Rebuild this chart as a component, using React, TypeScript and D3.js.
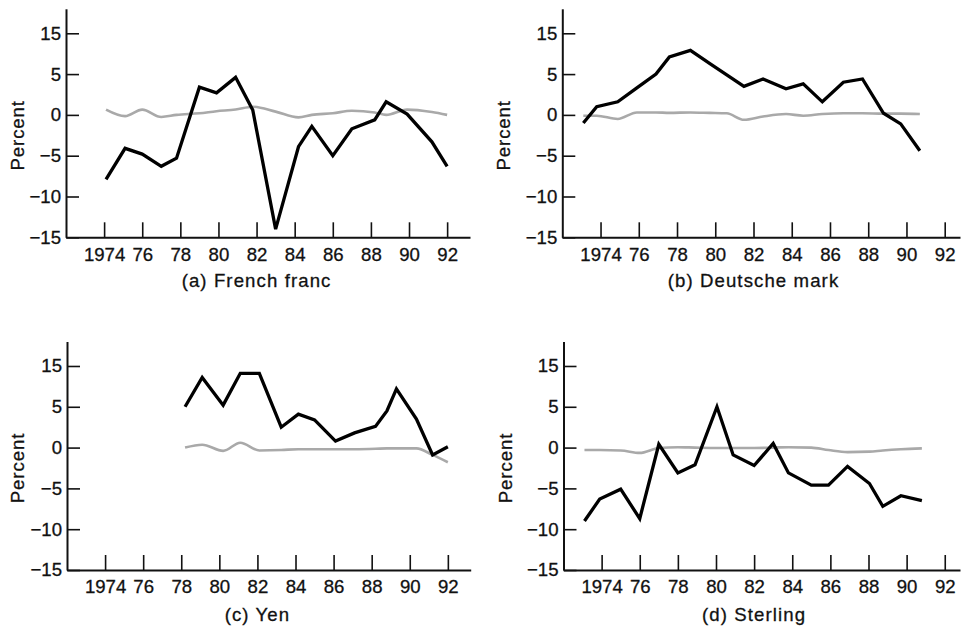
import * as d3 from "d3";
import React, { useRef, useEffect } from "react";

// y ticks are evenly spaced; the top one is printed "15" in the original
const yTickValues = [10, 5, 0, -5, -10, -15];
const yTickLabels = ["15", "5", "0", "\u22125", "\u221210", "\u221215"];
const xTickValues = [1974, 1976, 1978, 1980, 1982, 1984, 1986, 1988, 1990, 1992];
const xTickLabels = ["1974", "76", "78", "80", "82", "84", "86", "88", "90", "92"];
const titles = ["(a) French franc", "(b) Deutsche mark", "(c) Yen", "(d) Sterling"];

const francYears = [1974.1, 1975.1, 1976.0, 1977.0, 1977.8, 1979.0, 1979.9, 1980.9, 1981.8, 1983.0, 1984.2, 1984.9, 1986.0, 1987.0, 1988.2, 1988.8, 1989.9, 1991.2, 1992.0];
const francValues = [-7.9, -4.1, -4.8, -6.3, -5.3, 3.4, 2.7, 4.6, 0.6, -14.0, -3.9, -1.4, -5.0, -1.7, -0.6, 1.6, 0.1, -3.3, -6.3];
const francTrend = [0.65, -0.15, 0.65, -0.25, 0.0, 0.2, 0.45, 0.65, 1.0, 0.4, -0.3, 0.0, 0.2, 0.5, 0.3, 0.0, 0.65, 0.35, 0.0];

const markYears = [1973.1, 1973.8, 1974.9, 1975.9, 1976.9, 1977.6, 1978.7, 1979.7, 1980.6, 1981.5, 1982.5, 1983.7, 1984.6, 1985.6, 1986.7, 1987.7, 1988.8, 1989.7, 1990.7];
const markValues = [-1.0, 1.0, 1.6, 3.3, 5.0, 7.1, 7.9, 6.3, 4.9, 3.5, 4.4, 3.2, 3.8, 1.6, 4.0, 4.4, 0.2, -1.1, -4.4];
const markTrend = [-0.1, -0.1, -0.5, 0.3, 0.3, 0.25, 0.3, 0.25, 0.2, -0.6, -0.2, 0.1, -0.1, 0.1, 0.2, 0.2, 0.15, 0.15, 0.1];

const yenYears = [1978.2, 1979.1, 1980.2, 1981.1, 1982.1, 1983.25, 1984.15, 1985.0, 1986.1, 1987.1, 1988.2, 1988.8, 1989.3, 1990.35, 1991.2, 1992.0];
const yenValues = [5.0, 8.6, 5.2, 9.1, 9.1, 2.5, 4.1, 3.4, 0.8, 1.8, 2.6, 4.5, 7.2, 3.5, -0.9, 0.1];
const yenTrend = [0.0, 0.35, -0.4, 0.6, -0.35, -0.3, -0.2, -0.2, -0.2, -0.2, -0.15, -0.1, -0.1, -0.1, -0.9, -1.8];

const sterlingYears = [1973.1, 1973.9, 1975.0, 1976.0, 1977.0, 1978.0, 1978.9, 1980.05, 1980.9, 1982.0, 1983.0, 1983.8, 1985.0, 1985.9, 1986.9, 1988.05, 1988.75, 1989.7, 1990.8];
const sterlingValues = [-9.0, -6.3, -5.1, -8.7, 0.4, -3.1, -2.1, 5.0, -0.9, -2.2, 0.5, -3.1, -4.6, -4.6, -2.3, -4.4, -7.2, -5.9, -6.5];
const sterlingTrend = [-0.3, -0.3, -0.35, -0.65, -0.05, 0.05, 0.0, -0.05, -0.05, -0.05, 0.0, 0.05, 0.0, -0.3, -0.55, -0.5, -0.35, -0.2, -0.1];

const seriesList = [
    { years: francYears, values: francValues, trend: francTrend },
    { years: markYears, values: markValues, trend: markTrend },
    { years: yenYears, values: yenValues, trend: yenTrend },
    { years: sterlingYears, values: sterlingValues, trend: sterlingTrend },
];

// pixel layout of each panel
const layouts = [
    { left: 66, right: 470, xEnd: 1993.2, top: 8.8, bottom: 237.3, labelDx: -49, titleY: 287 },
    { left: 562.3, right: 960, xEnd: 1992.8, top: 8.8, bottom: 237.3, labelDx: -59, titleY: 287 },
    { left: 67, right: 470.7, xEnd: 1993.2, top: 341.5, bottom: 570, labelDx: -50, titleY: 621 },
    { left: 563.5, right: 960, xEnd: 1992.8, top: 341.5, bottom: 570, labelDx: -58, titleY: 621 },
];

const FONT = "'Liberation Sans', Arial, Helvetica, sans-serif";

function App() {
    const width = 961;
    const height = 628;
    const ref = useRef(null);

    useEffect(() => {
        const svg = d3.select(ref.current);
        svg.selectAll("*").remove();

        layouts.forEach((lay, i) => {
            const s = seriesList[i];
            const x = d3.scaleLinear().domain([1972, lay.xEnd]).range([lay.left, lay.right]);
            const y = d3.scaleLinear().domain([-15, 13]).range([lay.bottom, lay.top]);
            const g = svg.append("g");

            const yAxis = d3
                .axisLeft(y)
                .tickValues(yTickValues)
                .tickSizeInner(-13)
                .tickSizeOuter(0)
                .tickPadding(5)
                .tickFormat((d, k) => yTickLabels[k]);
            const ya = g.append("g").attr("transform", `translate(${lay.left},0)`).call(yAxis);

            const xAxis = d3
                .axisBottom(x)
                .tickValues(xTickValues)
                .tickSizeInner(-15)
                .tickSizeOuter(0)
                .tickPadding(10)
                .tickFormat((d, k) => xTickLabels[k]);
            const xa = g.append("g").attr("transform", `translate(0,${lay.bottom})`).call(xAxis);

            [ya, xa].forEach((a) => {
                a.attr("font-family", FONT).attr("font-size", 18.6);
                a.select(".domain").attr("stroke", "#111").attr("stroke-width", 2);
                a.selectAll(".tick line").attr("stroke", "#111").attr("stroke-width", 1.6);
                a.selectAll(".tick text")
                    .attr("fill", "#111")
                    .attr("stroke", "#111")
                    .attr("stroke-width", 0.3);
            });

            const trendLine = d3
                .line()
                .x((d, k) => x(s.years[k]))
                .y((d) => y(d))
                .curve(d3.curveMonotoneX);
            g.append("path")
                .attr("d", trendLine(s.trend))
                .attr("fill", "none")
                .attr("stroke", "#a9a9a9")
                .attr("stroke-width", 2.6);

            const line = d3
                .line()
                .x((d, k) => x(s.years[k]))
                .y((d) => y(d));
            g.append("path")
                .attr("d", line(s.values))
                .attr("fill", "none")
                .attr("stroke", "#000")
                .attr("stroke-width", 3.3)
                .attr("stroke-linejoin", "miter");

            g.append("text")
                .attr("transform", `translate(${lay.left + lay.labelDx},${y(-2.5)}) rotate(-90)`)
                .attr("text-anchor", "middle")
                .attr("dy", "0.35em")
                .attr("font-family", FONT)
                .attr("font-size", 18.6)
                .attr("letter-spacing", 0.9)
                .attr("fill", "#111")
                .attr("stroke", "#111")
                .attr("stroke-width", 0.3)
                .text("Percent");

            g.append("text")
                .attr("x", x(1982))
                .attr("y", lay.titleY)
                .attr("text-anchor", "middle")
                .attr("font-family", FONT)
                .attr("font-size", 18.6)
                .attr("letter-spacing", 1.1)
                .attr("fill", "#111")
                .attr("stroke", "#111")
                .attr("stroke-width", 0.3)
                .text(titles[i]);
        });
    }, []);

    return (
        <svg
            ref={ref}
            width={width}
            height={height}
            style={{ position: "absolute", left: 0, top: 0, background: "#fff" }}
        ></svg>
    );
}

export default App;
